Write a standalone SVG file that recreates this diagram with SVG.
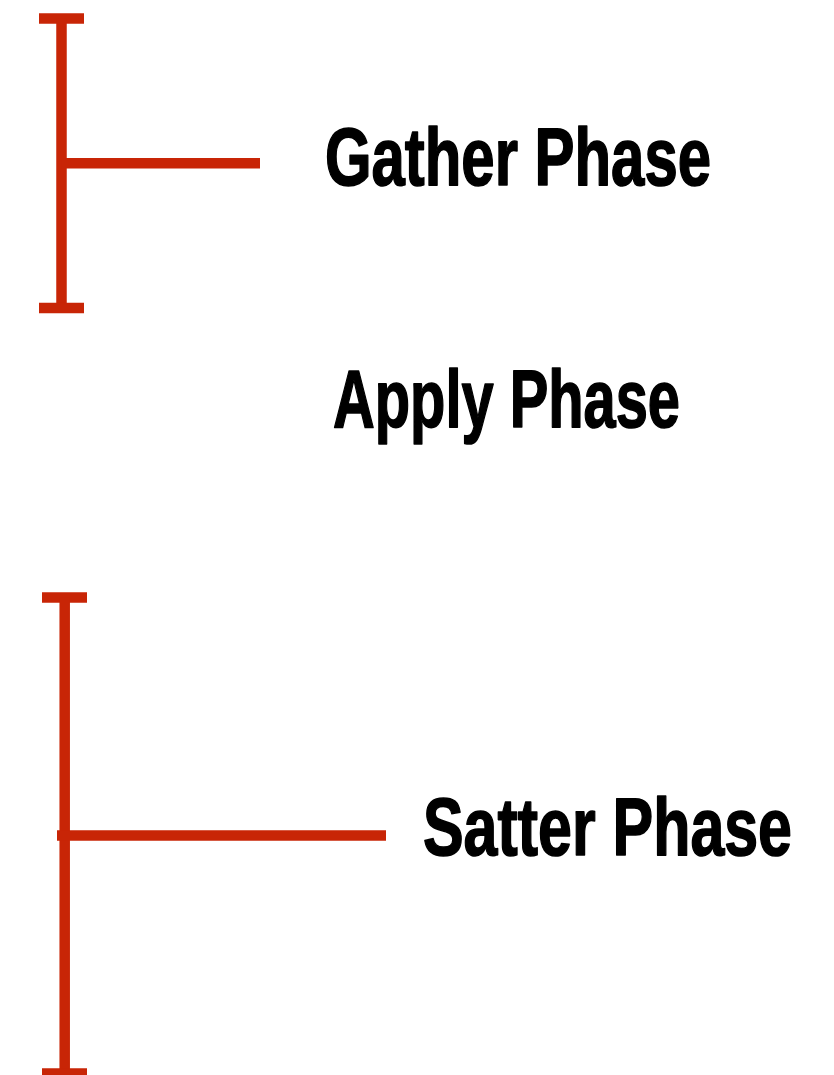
<svg xmlns="http://www.w3.org/2000/svg" width="834" height="1075" viewBox="0 0 834 1075">
<style>
.br{stroke:#C82506;stroke-width:10.5;fill:none;stroke-linecap:butt}
.lbl{font-family:"Liberation Sans",Arial,sans-serif;font-weight:bold;font-size:82px;fill:#000;stroke:#000;stroke-width:1.6;stroke-linejoin:round}
</style>
<rect width="834" height="1075" fill="#fff"/>
<g id="connectors">
<g id="gather-bracket">
<line class="br" x1="39" y1="18.5" x2="84" y2="18.5"/>
<line class="br" x1="61.5" y1="18.5" x2="61.5" y2="308"/>
<line class="br" x1="39" y1="308" x2="84" y2="308"/>
<line class="br" x1="61.5" y1="163.3" x2="260" y2="163.3"/>
</g>
<g id="scatter-bracket">
<line class="br" x1="42" y1="597.5" x2="87" y2="597.5"/>
<line class="br" x1="64.7" y1="597.5" x2="64.7" y2="1073"/>
<line class="br" x1="42" y1="1073.5" x2="87" y2="1073.5"/>
<line class="br" x1="57" y1="835.5" x2="386" y2="835.5"/>
</g>
</g>
<g id="gather"><text class="lbl" x="325" y="185" textLength="386" lengthAdjust="spacingAndGlyphs">Gather Phase</text></g>
<g id="apply"><text class="lbl" x="333" y="427" textLength="347" lengthAdjust="spacingAndGlyphs">Apply Phase</text></g>
<g id="scatter"><text class="lbl" x="423" y="855" textLength="369" lengthAdjust="spacingAndGlyphs">Satter Phase</text></g>
</svg>
